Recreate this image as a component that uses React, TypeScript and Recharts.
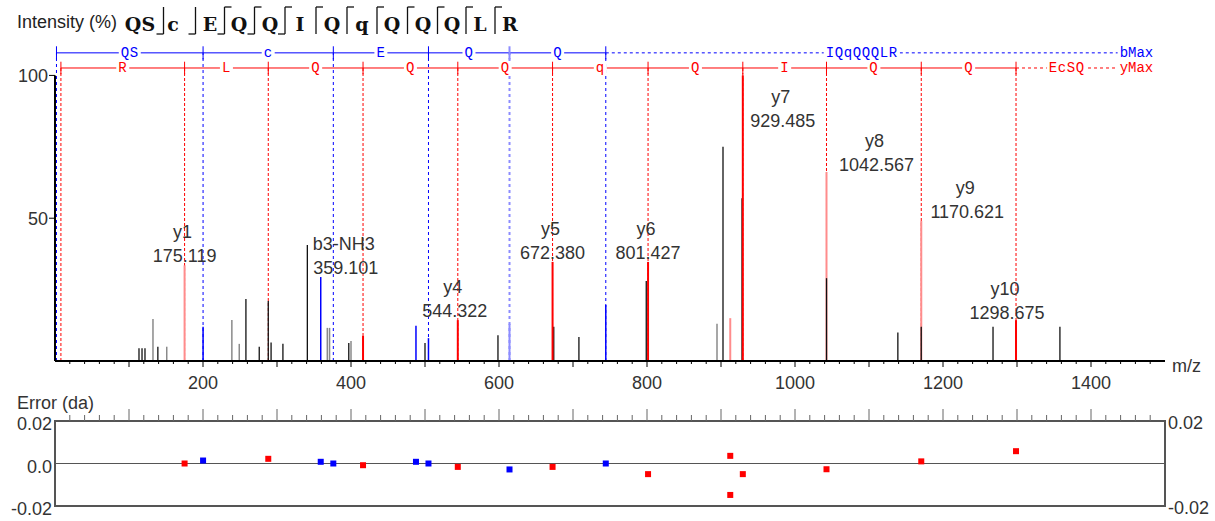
import React from "react";
import {
  ComposedChart,
  ScatterChart,
  Scatter,
  XAxis,
  YAxis,
  ReferenceLine,
  ReferenceDot,
  ReferenceArea,
} from "recharts";

// peptide and fragment ladders
const sequence = ["QS", "c", "E", "Q", "Q", "I", "Q", "q", "Q", "Q", "Q", "L", "R"];
const bCutAfter = [0, 1, 2, 3, 4];
const yCutAfter = [2, 3, 4, 5, 6, 7, 8, 9, 10, 11];

const bLadder = [2, 200.1, 376.1, 504.7, 614.2, 744.3];
const bLadderLetters = ["QS", "c", "E", "Q", "Q"];
const bRemainder = "IQqQQQLR";
const yLadder = [8, 175.119, 288.2, 416.26, 544.322, 672.38, 801.427, 929.485, 1042.567, 1170.621, 1298.675];
const yLadderLetters = ["R", "L", "Q", "Q", "Q", "q", "Q", "I", "Q", "Q"];
const yRemainder = "EcSQ";
const ladderEnd = 1436;
const bLevel = 107.9;
const yLevel = 102.6;

// peaks (m/z, relative intensity %)
const blackPeaks = [
  { mz: 113.5, i: 4.5 }, { mz: 117.6, i: 4.5 }, { mz: 121.6, i: 4.5 }, { mz: 139, i: 5 },
  { mz: 258, i: 21.7 }, { mz: 276, i: 5 }, { mz: 288.2, i: 21 }, { mz: 292, i: 6.5 },
  { mz: 308, i: 6 }, { mz: 341, i: 40.6 }, { mz: 397, i: 6.3 }, { mz: 500, i: 6.3 },
  { mz: 598.6, i: 9 }, { mz: 674, i: 12 }, { mz: 708, i: 8.4 }, { mz: 799, i: 28 },
  { mz: 902.7, i: 75 }, { mz: 928.4, i: 57 }, { mz: 1042.6, i: 29 }, { mz: 1139, i: 10 },
  { mz: 1170.6, i: 12 }, { mz: 1267.6, i: 12 }, { mz: 1358, i: 12 },
];
const greyPeaks = [
  { mz: 132.4, i: 14.7 }, { mz: 151, i: 5 }, { mz: 239, i: 14.4 }, { mz: 249, i: 6 },
  { mz: 368, i: 11.6 }, { mz: 371, i: 11.6 }, { mz: 400, i: 7 }, { mz: 894.6, i: 13 },
];
const bPeaks = [
  { mz: 200.1, i: 12 }, { mz: 359.101, i: 29.4 }, { mz: 487.8, i: 12.3 },
  { mz: 504.7, i: 8 }, { mz: 744.3, i: 19.6 },
];
const bPeaksFaint = [{ mz: 614.2, i: 13 }];
const yPeaks = [
  { mz: 416.26, i: 8.8 }, { mz: 544.322, i: 14.3 }, { mz: 672.38, i: 34.7 },
  { mz: 801.427, i: 34.7 }, { mz: 929.485, i: 100 }, { mz: 1298.675, i: 14.3 },
];
const yPeaksFaint = [
  { mz: 175.119, i: 33.5 }, { mz: 912.5, i: 15 }, { mz: 1042.567, i: 66.2 }, { mz: 1170.621, i: 49 },
];

const annotations = [
  { ion: "y1", mz: 175.119, i: 33.5 },
  { ion: "b3-NH3", mz: 359.101, i: 29.4 },
  { ion: "y4", mz: 544.322, i: 14.3 },
  { ion: "y5", mz: 672.38, i: 34.7 },
  { ion: "y6", mz: 801.427, i: 34.7 },
  { ion: "y7", mz: 929.485, i: 100 },
  { ion: "y8", mz: 1042.567, i: 66.2 },
  { ion: "y9", mz: 1170.621, i: 49 },
  { ion: "y10", mz: 1298.675, i: 14.3 },
];

// mass errors (da)
const bErrors = [
  { mz: 200.1, err: 0.0014 }, { mz: 359.101, err: 0.0008 }, { mz: 376.1, err: 0.0 },
  { mz: 487.8, err: 0.0008 }, { mz: 504.7, err: 0.0 }, { mz: 614.2, err: -0.0028 }, { mz: 744.3, err: 0.0 },
];
const yErrors = [
  { mz: 175.119, err: 0.0 }, { mz: 288.2, err: 0.0022 }, { mz: 416.26, err: -0.0008 },
  { mz: 544.322, err: -0.0016 }, { mz: 672.38, err: -0.0016 }, { mz: 801.427, err: -0.005 },
  { mz: 912.5, err: 0.0036 }, { mz: 912.5, err: -0.0148 }, { mz: 929.485, err: -0.005 },
  { mz: 1042.567, err: -0.0027 }, { mz: 1170.621, err: 0.001 }, { mz: 1298.675, err: 0.0058 },
];

const mzLabels = [200, 400, 600, 800, 1000, 1200, 1400];
const intensityTicks = [50, 100];
const errorTicks = [-0.02, 0, 0.02];
const mzTicks = Array.from({ length: 74 }, (_, k) => (k + 1) * 20);

const BLUE = "#0000ff";
const RED = "#ff0000";
const FAINT_RED = "#ff8c8c";
const FAINT_BLUE = "#8c8cff";
const SANS = "'Liberation Sans', Arial, sans-serif";
const MONO = "'Liberation Mono', monospace";
const FS = 18;

const labelNudge: Record<string, [number, number]> = {
  "b3-NH3": [25, 0],
  y4: [-3, 0],
  y7: [40, 55],
  y8: [50, 2],
  y9: [46, 0],
  y10: [-9, 2],
};

// header residue centres and mark shifts (layout only)
const seqX = [140, 173, 210, 239, 270, 300, 332, 362, 392, 423, 452, 480, 510];
const markShift = [7, 4, 0, 0, 0, 0, 0, 0, 0, 0, 0, 0];

const PeakLabel = (props: any) => {
  const { cx, cy, payload } = props;
  if (cx == null || cy == null) return null;
  const [dx, dy] = labelNudge[payload.ion] ?? [0, 0];
  const x = cx + dx;
  const y = cy + dy - 3;
  return (
    <g fontFamily={SANS} fontSize={FS} fill="#333">
      <text x={x - 2} y={y - 24} textAnchor="middle">{payload.ion}</text>
      <text x={x} y={y} textAnchor="middle">{payload.mz.toFixed(3)}</text>
    </g>
  );
};

const LadderText = ({ cx, cy, text, color }: any) => {
  const w = text.length * 9 + 4;
  return (
    <g>
      <rect x={cx - w / 2} y={cy - 6} width={w} height={12} fill="#fff" />
      <text x={cx} y={cy + 4.5} textAnchor="middle" fontFamily={MONO} fontSize={14} letterSpacing={0.6} fill={color}>
        {text}
      </text>
    </g>
  );
};

const MzTick = (props: any) => {
  const { x, y, payload } = props;
  const v = payload.value;
  const len = v % 100 === 0 ? 6 : 3;
  return (
    <g>
      <line x1={x} x2={x} y1={y} y2={y + len} stroke="#000" />
      {mzLabels.includes(v) && (
        <text x={x} y={y + 28} textAnchor="middle" fontFamily={SANS} fontSize={FS} fill="#333">
          {v}
        </text>
      )}
    </g>
  );
};

const ErrTick = (props: any) => {
  const { x, y, payload } = props;
  const len = payload.value % 100 === 0 ? 12 : 6;
  return <line x1={x} x2={x} y1={y} y2={y - len} stroke="#666" />;
};

const square = (color: string) => (p: any) =>
  <rect x={p.cx - 3} y={p.cy - 3} width={6} height={6} fill={color} />;

const peakLines = (peaks: { mz: number; i: number }[], color: string, width: number, tag: string) =>
  peaks.map((p, k) => (
    <ReferenceLine
      key={`${tag}${k}`}
      segment={[{ x: p.mz, y: 0 }, { x: p.mz, y: p.i }]}
      stroke={color}
      strokeWidth={width}
    />
  ));

function Header() {
  return (
    <svg width={1215} height={40} style={{ position: "absolute", left: 0, top: 0 }}>
      <text x={17} y={28} fontFamily={SANS} fontSize={FS} fill="#222">Intensity (%)</text>
      {sequence.map((r, k) => (
        <text key={k} x={seqX[k]} y={31} textAnchor="middle" fontFamily="'DejaVu Serif', serif"
          fontWeight="bold" fontSize={19} fill="#111">
          {r}
        </text>
      ))}
      {sequence.slice(0, -1).map((_, k) => {
        const hasB = bCutAfter.includes(k);
        const hasY = yCutAfter.includes(k);
        const vx = (seqX[k] + seqX[k + 1]) / 2 + markShift[k];
        return (
          <g key={k} stroke="#111" strokeWidth={1.3}>
            <line x1={vx} x2={vx} y1={7} y2={34} />
            {hasB && <line x1={vx - 7} x2={vx} y1={34} y2={34} />}
            {hasY && <line x1={vx} x2={vx + 7} y1={7} y2={7} />}
          </g>
        );
      })}
    </svg>
  );
}

export default function App() {
  const bLast = bLadder[bLadder.length - 1];
  const yLast = yLadder[yLadder.length - 1];
  return (
    <div style={{ position: "absolute", left: 0, top: 0, width: 1215, height: 521, background: "#fff", fontFamily: SANS }}>
      <Header />
      <div style={{ position: "absolute", left: 0, top: 0 }}>
        <ComposedChart width={1215} height={395} margin={{ top: 44, right: 50, bottom: 0, left: 0 }} data={annotations}>
          <XAxis
            dataKey="mz"
            type="number"
            domain={[0, 1500]}
            ticks={mzTicks}
            interval={0}
            tick={<MzTick />}
            tickLine={false}
            tickSize={0}
            tickMargin={0}
            height={34}
            axisLine={{ stroke: "#000", strokeWidth: 2 }}
            allowDataOverflow
            label={{
              content: (p: any) => (
                <text x={p.viewBox.x + p.viewBox.width + 7} y={p.viewBox.y + 11} fontFamily={SANS} fontSize={FS} fill="#333">
                  m/z
                </text>
              ),
            }}
          />
          <YAxis
            type="number"
            domain={[0, 111]}
            ticks={intensityTicks}
            width={55}
            axisLine={false}
            tickLine={{ stroke: "#000" }}
            tickSize={6}
            tickMargin={1}
            tick={{ fontSize: FS, fill: "#333", fontFamily: SANS }}
            allowDataOverflow
          />

          {/* ladder dashed verticals */}
          {bLadder.map((m, k) => (
            <ReferenceLine key={`bd${k}`} segment={[{ x: m, y: 0 }, { x: m, y: bLevel }]}
              stroke={k === 4 ? FAINT_BLUE : BLUE} strokeWidth={k === 4 ? 2 : 1} strokeDasharray="3 3" />
          ))}
          {yLadder.map((m, k) => (
            <ReferenceLine key={`yd${k}`} segment={[{ x: m, y: 0 }, { x: m, y: yLevel }]}
              stroke={RED} strokeDasharray="3 2" />
          ))}

          {/* ladders */}
          <ReferenceLine segment={[{ x: bLadder[0], y: bLevel }, { x: bLast, y: bLevel }]} stroke={BLUE} />
          <ReferenceLine segment={[{ x: bLast, y: bLevel }, { x: ladderEnd, y: bLevel }]} stroke={BLUE} strokeDasharray="3 3" />
          <ReferenceLine segment={[{ x: yLadder[0], y: yLevel }, { x: yLast, y: yLevel }]} stroke={RED} />
          <ReferenceLine segment={[{ x: yLast, y: yLevel }, { x: ladderEnd, y: yLevel }]} stroke={RED} strokeDasharray="3 3" />
          {bLadder.map((m, k) => (
            <ReferenceLine key={`bt${k}`} segment={[{ x: m, y: bLevel - 2.3 }, { x: m, y: bLevel + 2.3 }]}
              stroke={k === 4 ? FAINT_BLUE : BLUE} strokeWidth={k === 4 ? 2 : 1} />
          ))}
          {yLadder.map((m, k) => (
            <ReferenceLine key={`yt${k}`} segment={[{ x: m, y: yLevel - 2.2 }, { x: m, y: yLevel + 2.2 }]} stroke={RED} />
          ))}
          {bLadderLetters.map((t, k) => (
            <ReferenceDot key={`bl${k}`} x={(bLadder[k] + bLadder[k + 1]) / 2} y={bLevel} r={0}
              shape={(p: any) => <LadderText cx={p.cx} cy={p.cy} text={t} color={BLUE} />} />
          ))}
          <ReferenceDot x={(bLast + ladderEnd) / 2} y={bLevel} r={0}
            shape={(p: any) => <LadderText cx={p.cx} cy={p.cy} text={bRemainder} color={BLUE} />} />
          {yLadderLetters.map((t, k) => (
            <ReferenceDot key={`yl${k}`} x={(yLadder[k] + yLadder[k + 1]) / 2} y={yLevel} r={0}
              shape={(p: any) => <LadderText cx={p.cx} cy={p.cy} text={t} color={RED} />} />
          ))}
          <ReferenceDot x={(yLast + ladderEnd) / 2} y={yLevel} r={0}
            shape={(p: any) => <LadderText cx={p.cx} cy={p.cy} text={yRemainder} color={RED} />} />
          <ReferenceDot x={ladderEnd} y={bLevel} r={0}
            shape={(p: any) => <text x={p.cx + 2} y={p.cy + 4.5} fontFamily={MONO} fontSize={14} fill={BLUE}>bMax</text>} />
          <ReferenceDot x={ladderEnd} y={yLevel} r={0}
            shape={(p: any) => <text x={p.cx + 2} y={p.cy + 4.5} fontFamily={MONO} fontSize={14} fill={RED}>yMax</text>} />

          {/* y axis line */}
          <ReferenceLine segment={[{ x: 0, y: 0 }, { x: 0, y: 100 }]} stroke="#000" strokeWidth={2} />

          {/* peaks */}
          {peakLines(yPeaksFaint, FAINT_RED, 2, "yf")}
          {peakLines(bPeaksFaint, FAINT_BLUE, 2, "bf")}
          {peakLines(greyPeaks, "#8a8a8a", 1.5, "g")}
          {peakLines(blackPeaks, "#111", 1.3, "k")}
          {peakLines(bPeaks, BLUE, 1.5, "b")}
          {peakLines(yPeaks, RED, 2, "y")}

          <Scatter data={annotations} dataKey="i" shape={PeakLabel} isAnimationActive={false} />
        </ComposedChart>
      </div>

      <div style={{ position: "absolute", left: 0, top: 385 }}>
        <ScatterChart width={1215} height={136} margin={{ top: 10, right: 0, bottom: 15, left: 0 }}>
          <XAxis
            dataKey="mz"
            type="number"
            orientation="top"
            domain={[0, 1500]}
            ticks={mzTicks}
            interval={0}
            tick={<ErrTick />}
            tickLine={false}
            tickSize={0}
            tickMargin={0}
            axisLine={false}
            height={26}
            allowDataOverflow
          />
          <YAxis
            dataKey="err"
            type="number"
            domain={[-0.02, 0.02]}
            ticks={errorTicks}
            width={55}
            axisLine={false}
            tickLine={false}
            tickSize={0}
            tickMargin={3}
            tickFormatter={(v: number) => (v === 0 ? "0.0" : v.toFixed(2))}
            tick={{ fontSize: FS, fill: "#333", fontFamily: SANS, dy: 3 }}
            allowDataOverflow
            label={{
              content: (p: any) => (
                <text x={p.viewBox.x + 17} y={p.viewBox.y - 12} fontFamily={SANS} fontSize={FS} fill="#333">
                  Error (da)
                </text>
              ),
            }}
          />
          <YAxis
            yAxisId="right"
            orientation="right"
            type="number"
            domain={[-0.02, 0.02]}
            ticks={[-0.02, 0.02]}
            width={50}
            axisLine={false}
            tickLine={false}
            tickSize={0}
            tickMargin={3}
            tickFormatter={(v: number) => v.toFixed(2)}
            tick={{ fontSize: FS, fill: "#333", fontFamily: SANS, dy: 2 }}
            allowDataOverflow
          />
          <ReferenceArea x1={0} x2={1500} y1={-0.02} y2={0.02} fill="none" stroke="#555" strokeWidth={2} />
          <ReferenceLine y={0} stroke="#555" strokeWidth={1} />
          <Scatter data={bErrors} fill={BLUE} shape={square(BLUE)} isAnimationActive={false} />
          <Scatter data={yErrors} fill={RED} shape={square(RED)} isAnimationActive={false} />
        </ScatterChart>
      </div>
    </div>
  );
}
